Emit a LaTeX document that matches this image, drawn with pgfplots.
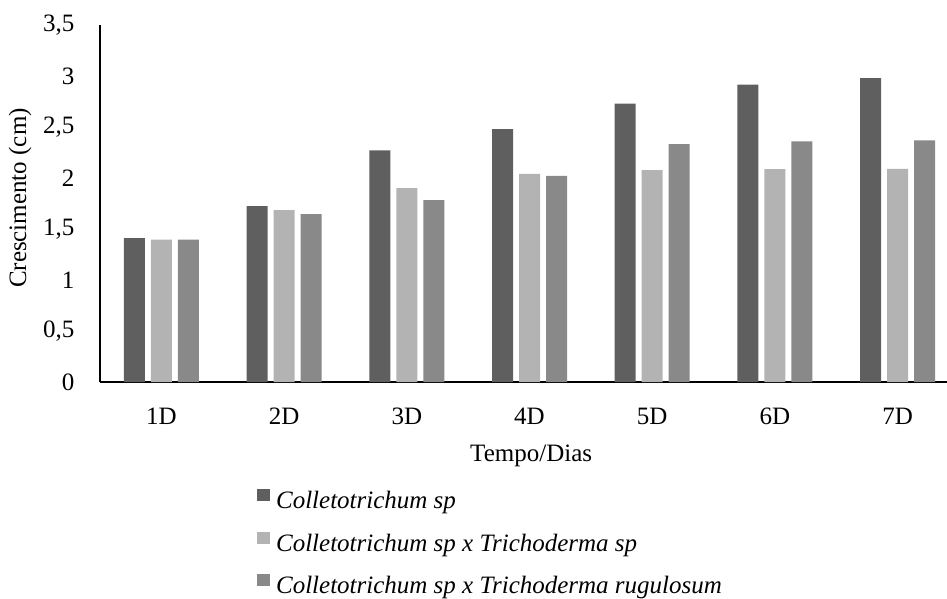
\documentclass[border=0pt]{standalone}
\usepackage{pgfplots}
\pgfplotsset{compat=1.18}
\usepackage{fontspec}
\setmainfont{Liberation Serif}
\definecolor{cA}{HTML}{5F5F5F}
\definecolor{cB}{HTML}{B3B3B3}
\definecolor{cC}{HTML}{898989}
\newcommand{\fs}{\fontsize{12.5pt}{15pt}\selectfont}
\begin{document}
\fs
\begin{tikzpicture}
\begin{axis}[
  name=ax,
  scale only axis,
  width=423.5pt, height=178.5pt,
  ybar=3pt, bar width=10.5pt,
  xmin=-0.5, xmax=6.402,
  ymin=0, ymax=3.5,
  axis x line=bottom, axis y line=left,
  axis line style={-, black, line width=0.6pt},
  xtick={0,1,2,3,4,5,6},
  xticklabels={1D,2D,3D,4D,5D,6D,7D},
  ytick={0,0.5,1,1.5,2,2.5,3,3.5},
  major tick length=0pt,
  /pgf/number format/assume math mode=true,
  /pgf/number format/use comma,
  yticklabel style={font=\fs, xshift=-8.5pt},
  xticklabel style={font=\fs, yshift=-8.5pt},
  xlabel={Tempo/Dias},
  xlabel style={at={(rel axis cs:0.509,0)}, anchor=north, yshift=-31.5pt, inner sep=0pt, font=\fs},
  legend style={at={(rel axis cs:0.1854,-0.2997)}, anchor=north west, draw=none, fill=none,
    inner sep=0pt, row sep=8.6pt, cells={anchor=west},
    nodes={inner sep=0pt, text height=8.5pt, text depth=3pt, font=\fs\itshape}},
  legend image code/.code={\fill[#1] (0pt,0.9pt) rectangle (6.2pt,6.9pt);},
  legend cell align=left,
]
\addplot[fill=cA, draw=none] coordinates {(0,1.41) (1,1.725) (2,2.27) (3,2.48) (4,2.73) (5,2.915) (6,2.98)};
\addplot[fill=cB, draw=none] coordinates {(0,1.395) (1,1.686) (2,1.90) (3,2.04) (4,2.078) (5,2.088) (6,2.09)};
\addplot[fill=cC, draw=none] coordinates {(0,1.395) (1,1.647) (2,1.784) (3,2.02) (4,2.333) (5,2.36) (6,2.37)};
\legend{\ Colletotrichum sp,\ Colletotrichum sp x Trichoderma sp,\ Colletotrichum sp x Trichoderma rugulosum}
\end{axis}
\node[rotate=90, font=\fs, inner sep=0pt] at ([xshift=-40pt,yshift=2.7pt]ax.west) {Crescimento (cm)};
\pgfresetboundingbox
\path[use as bounding box] ([xshift=-50pt,yshift=-108.5pt]ax.south west) rectangle ([yshift=12.5pt]ax.north east);
\end{tikzpicture}
\end{document}
